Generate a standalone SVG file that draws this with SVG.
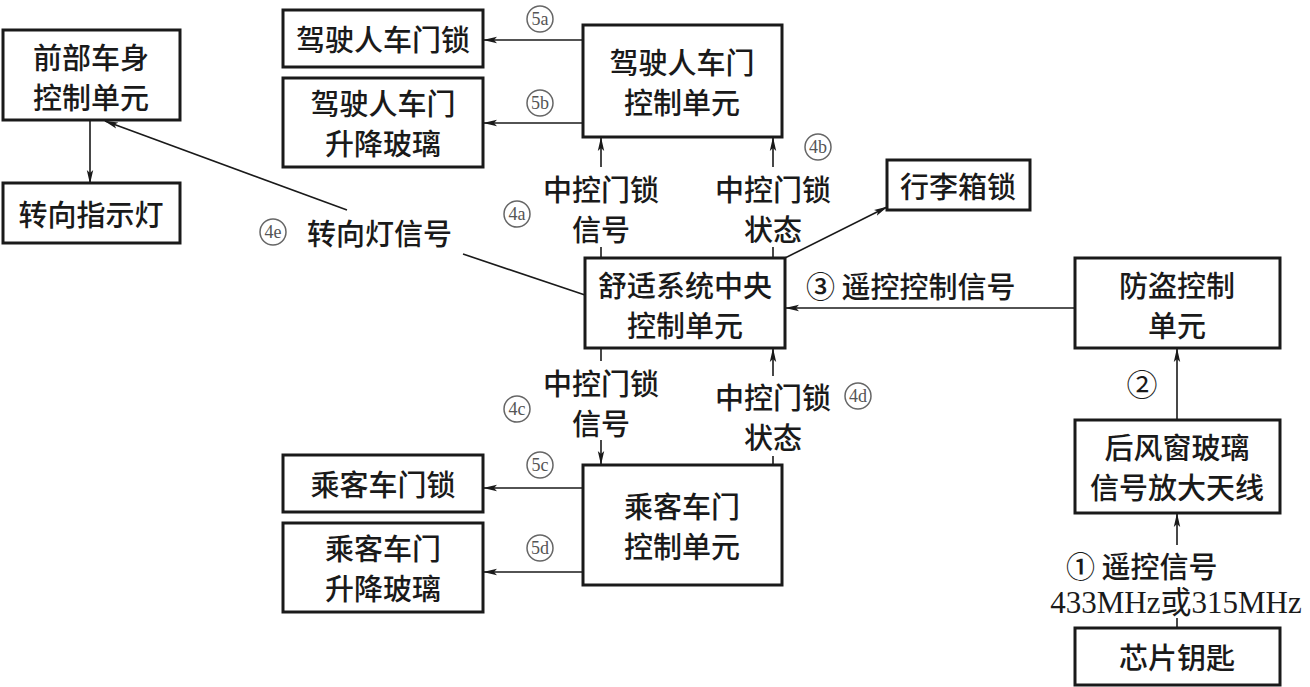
<svg xmlns="http://www.w3.org/2000/svg" width="1310" height="687" viewBox="0 0 1310 687">
<defs>
<marker id="ah" markerWidth="14" markerHeight="8" refX="13" refY="4" orient="auto" markerUnits="userSpaceOnUse">
<path d="M0,0.8 L14,4 L0,7.2 L3,4 Z" fill="#1a1a1a"/>
</marker>
</defs>
<style>
.box{fill:#fff;stroke:#1a1a1a;stroke-width:3}
.t{font-family:"Noto Sans CJK SC","Noto Sans",sans-serif;font-size:29px;font-weight:500;fill:#1a1a1a;text-anchor:middle;dominant-baseline:central}
.c{fill:none;stroke:#1a1a1a;stroke-width:1.6}
.ca{fill:none;stroke:#1a1a1a;stroke-width:1.6;marker-end:url(#ah)}
.num circle{fill:none;stroke:#666;stroke-width:1.5}
.num text{font-family:"Liberation Serif",serif;font-size:18px;fill:#555;text-anchor:middle;dominant-baseline:central}
.lbl{font-family:"Noto Sans CJK SC","Noto Sans",sans-serif;font-size:29px;font-weight:500;fill:#1a1a1a;dominant-baseline:central}
.ser{font-family:"Liberation Serif","Noto Sans CJK SC",serif;font-size:31px;fill:#1a1a1a;text-anchor:middle;dominant-baseline:central}
</style>
<rect width="1310" height="687" fill="#fff"/>

<g id="connectors">
<line class="ca" x1="90" y1="120" x2="90" y2="183"/>
<line class="ca" x1="583" y1="40" x2="484" y2="40"/>
<line class="ca" x1="583" y1="123" x2="484" y2="123"/>
<line class="c" x1="601" y1="258" x2="601" y2="247"/>
<line class="ca" x1="601" y1="167" x2="601" y2="138"/>
<line class="c" x1="773" y1="258" x2="773" y2="247"/>
<line class="ca" x1="773" y1="167" x2="773" y2="138"/>
<line class="ca" x1="785" y1="258" x2="887" y2="207"/>
<line class="c" x1="585" y1="295" x2="463" y2="254"/>
<line class="ca" x1="347" y1="210" x2="105" y2="121"/>
<line class="ca" x1="1075" y1="308" x2="786" y2="308"/>
<line class="ca" x1="1177" y1="420" x2="1177" y2="349"/>
<line class="c" x1="1177" y1="628" x2="1177" y2="618"/>
<line class="ca" x1="1177" y1="545" x2="1177" y2="514"/>
<line class="c" x1="601" y1="348" x2="601" y2="361"/>
<line class="ca" x1="601" y1="440" x2="601" y2="464"/>
<line class="c" x1="773" y1="465" x2="773" y2="456"/>
<line class="ca" x1="773" y1="376" x2="773" y2="349"/>
<line class="ca" x1="583" y1="488" x2="484" y2="488"/>
<line class="ca" x1="583" y1="572" x2="484" y2="572"/>
</g>

<g id="labels">
<text class="t" x="601" y="188">中控门锁</text>
<text class="t" x="601" y="228">信号</text>
<text class="t" x="773" y="188">中控门锁</text>
<text class="t" x="773" y="228">状态</text>
<text class="lbl" x="307" y="232">转向灯信号</text>
<text class="lbl" x="806" y="285">③ 遥控控制信号</text>
<text class="t" x="601" y="382">中控门锁</text>
<text class="t" x="601" y="422">信号</text>
<text class="t" x="773" y="396">中控门锁</text>
<text class="t" x="773" y="436">状态</text>
<text class="ser" x="1142" y="385">②</text>
<text class="lbl" x="1066" y="565">① 遥控信号</text>
<text class="ser" x="1176" y="602">433MHz或315MHz</text>
<g class="num"><circle cx="540" cy="19" r="13"/><text x="540" y="19">5a</text></g>
<g class="num"><circle cx="540" cy="103" r="13"/><text x="540" y="103">5b</text></g>
<g class="num"><circle cx="517" cy="214" r="13"/><text x="517" y="214">4a</text></g>
<g class="num"><circle cx="818" cy="147" r="13"/><text x="818" y="147">4b</text></g>
<g class="num"><circle cx="273" cy="232" r="13"/><text x="273" y="232">4e</text></g>
<g class="num"><circle cx="517" cy="409" r="13"/><text x="517" y="409">4c</text></g>
<g class="num"><circle cx="858" cy="396" r="13"/><text x="858" y="396">4d</text></g>
<g class="num"><circle cx="540" cy="465" r="13"/><text x="540" y="465">5c</text></g>
<g class="num"><circle cx="540" cy="548" r="13"/><text x="540" y="548">5d</text></g>
</g>

<g id="n-front"><rect class="box" x="3" y="30" width="177" height="90"/><text class="t" x="91" y="56">前部车身</text><text class="t" x="91" y="96">控制单元</text></g>
<g id="n-turn"><rect class="box" x="3" y="183" width="177" height="60"/><text class="t" x="91" y="213">转向指示灯</text></g>
<g id="n-dlock"><rect class="box" x="283" y="10" width="200" height="57"/><text class="t" x="383" y="38">驾驶人车门锁</text></g>
<g id="n-dwin"><rect class="box" x="283" y="78" width="200" height="89"/><text class="t" x="383" y="102">驾驶人车门</text><text class="t" x="383" y="142">升降玻璃</text></g>
<g id="n-dcu"><rect class="box" x="583" y="25" width="199" height="112"/><text class="t" x="682" y="61">驾驶人车门</text><text class="t" x="682" y="101">控制单元</text></g>
<g id="n-trunk"><rect class="box" x="887" y="160" width="143" height="50"/><text class="t" x="958" y="185">行李箱锁</text></g>
<g id="n-central"><rect class="box" x="585" y="258" width="200" height="90"/><text class="t" x="685" y="284">舒适系统中央</text><text class="t" x="685" y="324">控制单元</text></g>
<g id="n-alarm"><rect class="box" x="1075" y="258" width="205" height="90"/><text class="t" x="1177" y="284">防盗控制</text><text class="t" x="1177" y="324">单元</text></g>
<g id="n-antenna"><rect class="box" x="1075" y="420" width="205" height="93"/><text class="t" x="1177" y="446">后风窗玻璃</text><text class="t" x="1177" y="486">信号放大天线</text></g>
<g id="n-key"><rect class="box" x="1075" y="628" width="205" height="57"/><text class="t" x="1177" y="656">芯片钥匙</text></g>
<g id="n-plock"><rect class="box" x="283" y="455" width="200" height="57"/><text class="t" x="383" y="483">乘客车门锁</text></g>
<g id="n-pwin"><rect class="box" x="283" y="523" width="200" height="89"/><text class="t" x="383" y="547">乘客车门</text><text class="t" x="383" y="587">升降玻璃</text></g>
<g id="n-pcu"><rect class="box" x="583" y="465" width="199" height="120"/><text class="t" x="682" y="505">乘客车门</text><text class="t" x="682" y="545">控制单元</text></g>
</svg>
